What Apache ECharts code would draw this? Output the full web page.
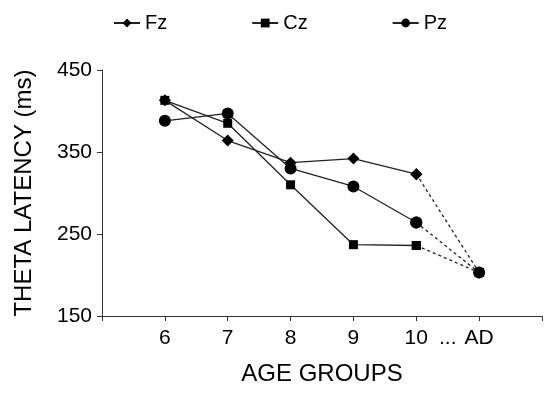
<!DOCTYPE html>
<html><head><meta charset="utf-8">
<script src="https://cdn.jsdelivr.net/npm/echarts@6/dist/echarts.min.js"></script>
<style>html,body{margin:0;padding:0;background:#fff}#c{width:550px;height:395px}</style>
</head><body><div id="c"></div>
<script>
// x positions: 6..10 are ages, 11 is "AD" (adults)
const ageX = [6, 7, 8, 9, 10, 11];
const tickLabels = {6: '6', 7: '7', 8: '8', 9: '9', 10: '10', 10.5: '...', 11: 'AD'};
const fz = [413, 364, 337, 342, 323, 203];
const cz = [413, 385, 310, 237, 236, 203];
const pz = [388, 397, 330, 308, 264, 203];
const seriesNames = ['Fz', 'Cz', 'Pz'];
const symbols = ['diamond', 'rect', 'circle'];
const symbolSizes = [12, 9, 12];

function pairs(vals, from, to) {
  const out = [];
  for (let i = from; i <= to; i++) out.push([ageX[i], vals[i]]);
  return out;
}
const allVals = [fz, cz, pz];
const series = [];
allVals.forEach((vals, k) => {
  const common = {
    name: seriesNames[k], type: 'line', symbol: symbols[k], symbolSize: symbolSizes[k],
    itemStyle: {color: '#000'}, z: 2 + k
  };
  series.push(Object.assign({}, common, {
    data: pairs(vals, 0, 4),
    lineStyle: {color: '#222', width: 1.3}
  }));
  series.push(Object.assign({}, common, {
    data: pairs(vals, 4, 5),
    lineStyle: {color: '#222', width: 1.3, type: [3, 3]}
  }));
});

const chart = echarts.init(document.getElementById('c'), null, {renderer: 'canvas'});
chart.setOption({
  animation: false,
  backgroundColor: '#fff',
  textStyle: {fontFamily: 'Liberation Sans, Arial, sans-serif'},
  legend: {
    data: seriesNames.map(n => ({name: n})),
    left: 108, top: 8, itemGap: 84, itemWidth: 26, itemHeight: 11,
    textStyle: {fontSize: 20, color: '#000', fontFamily: 'Liberation Sans, Arial, sans-serif'}
  },
  grid: {left: 102, right: 8, top: 70, bottom: 79, containLabel: false},
  xAxis: {
    type: 'value', min: 5, max: 12, interval: 1,
    name: 'AGE GROUPS', nameLocation: 'middle', nameGap: 46,
    nameTextStyle: {fontSize: 24, color: '#000'},
    axisLine: {lineStyle: {color: '#333', width: 1}},
    axisTick: {show: true, length: 5, lineStyle: {color: '#333'}, customValues: [5, 6, 7, 8, 9, 10, 11, 12]},
    axisLabel: {
      fontSize: 21, color: '#000', margin: 12,
      customValues: [6, 7, 8, 9, 10, 10.5, 11],
      formatter: v => tickLabels[v] !== undefined ? tickLabels[v] : ''
    },
    splitLine: {show: false}
  },
  yAxis: {
    type: 'value', min: 150, max: 450, interval: 100,
    name: 'THETA LATENCY (ms)', nameLocation: 'middle', nameGap: 66,
    nameTextStyle: {fontSize: 24, color: '#000'},
    axisLine: {show: true, lineStyle: {color: '#333', width: 1}},
    axisTick: {show: true, length: 5, lineStyle: {color: '#333'}},
    axisLabel: {fontSize: 21, color: '#000', margin: 10},
    splitLine: {show: false}
  },
  series: series
});
</script></body></html>
